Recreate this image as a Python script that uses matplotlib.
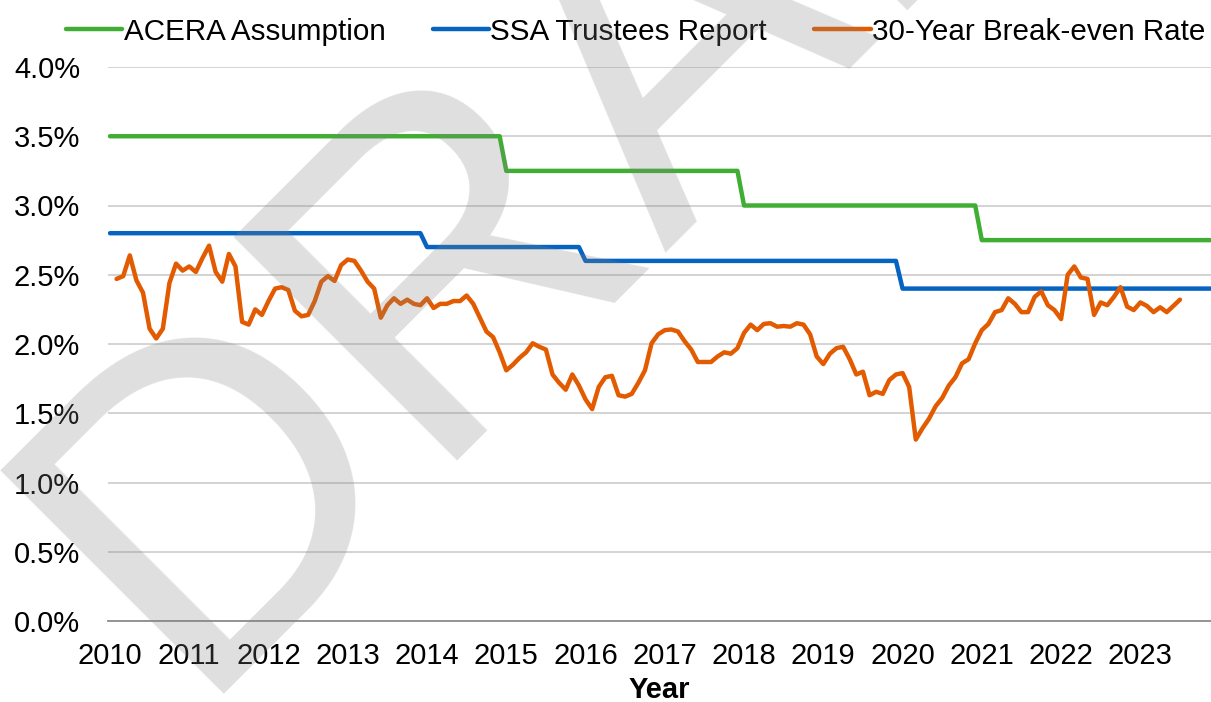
import matplotlib
matplotlib.use("Agg")
import matplotlib.pyplot as plt
import numpy as np

# Monthly index: 0 = Jan 2010
years = list(range(2010, 2024))
year_labels = [str(y) for y in years]

# Step assumptions (value, first month, last month)
acera_steps = [(3.50, 0, 59), (3.25, 60, 95), (3.00, 96, 131), (2.75, 132, 168)]
ssa_steps = [(2.80, 0, 47), (2.70, 48, 71), (2.60, 72, 119), (2.40, 120, 168)]

# 30-year break-even rate, monthly from Feb 2010 (month 1)
breakeven_start = 1
breakeven = [
    2.47, 2.49, 2.64, 2.46, 2.37, 2.11, 2.04, 2.11, 2.44, 2.58,
    2.53, 2.56, 2.52, 2.62, 2.71, 2.52, 2.45, 2.65, 2.56, 2.16,
    2.14, 2.25, 2.21, 2.31, 2.40, 2.41, 2.39, 2.24, 2.20, 2.21,
    2.31, 2.45, 2.49, 2.455, 2.57, 2.61, 2.60, 2.53, 2.45, 2.40,
    2.19, 2.28, 2.33, 2.29, 2.32, 2.29, 2.28, 2.33, 2.26, 2.29,
    2.29, 2.31, 2.31, 2.35, 2.29, 2.19, 2.09, 2.05, 1.94, 1.81,
    1.85, 1.90, 1.94, 2.005, 1.98, 1.96, 1.78, 1.72, 1.67, 1.78,
    1.70, 1.60, 1.53, 1.69, 1.76, 1.77, 1.63, 1.62, 1.64, 1.72,
    1.81, 2.005, 2.07, 2.10, 2.105, 2.09, 2.02, 1.96, 1.87, 1.87,
    1.87, 1.91, 1.94, 1.93, 1.97, 2.08, 2.14, 2.10, 2.145, 2.15,
    2.125, 2.13, 2.125, 2.15, 2.14, 2.07, 1.91, 1.855, 1.93, 1.97,
    1.98, 1.89, 1.78, 1.80, 1.63, 1.655, 1.64, 1.74, 1.78, 1.79,
    1.69, 1.31, 1.39, 1.46, 1.55, 1.61, 1.70, 1.76, 1.86, 1.89,
    2.005, 2.10, 2.145, 2.23, 2.245, 2.33, 2.29, 2.23, 2.23, 2.34,
    2.38, 2.28, 2.245, 2.18, 2.50, 2.56, 2.48, 2.47, 2.21, 2.30,
    2.28, 2.34, 2.41, 2.27, 2.245, 2.30, 2.275, 2.23, 2.265, 2.23,
    2.275, 2.32,
]

GREEN = '#3FAE33'
BLUE = '#0563C1'
ORANGE = '#E35B00'

plt.rcParams['font.family'] = ['Liberation Sans', 'DejaVu Sans']

fig = plt.figure(figsize=(12.11, 7.02), dpi=100)
ax = fig.add_axes([108/1211, 81/702, (1211-108)/1211, (621-67)/702])


def step_series(steps):
    xs, ys = [], []
    for v, a, b in steps:
        for m in range(a, b + 1):
            xs.append(m)
            ys.append(v)
    return xs, ys

gx, gy = step_series(acera_steps)
bx, by = step_series(ssa_steps)
ox = list(range(breakeven_start, breakeven_start + len(breakeven)))

lw = 3.2
ax.plot(gx, gy, color=GREEN, lw=lw, solid_capstyle='round', solid_joinstyle='round', label='ACERA Assumption', zorder=3)
ax.plot(bx, by, color=BLUE, lw=lw, solid_capstyle='round', solid_joinstyle='round', label='SSA Trustees Report', zorder=3)
ax.plot(ox, breakeven, color=ORANGE, lw=lw, solid_capstyle='round', solid_joinstyle='round', label='30-Year Break-even Rate', zorder=3)

ax.set_xlim(-0.3, 166.7)
ax.set_ylim(0, 4.0)
yt = np.arange(0, 4.01, 0.5)
ax.set_yticks(yt)
ax.set_yticklabels([f'{v:.1f}%' for v in yt])
ax.set_xticks([12 * (y - 2010) for y in years])
ax.set_xticklabels(year_labels)
ax.tick_params(axis='both', length=0, labelsize=21, colors='black')
ax.tick_params(axis='y', pad=20)
ax.tick_params(axis='x', pad=15)
ax.grid(axis='y', color='#D0D0D0', lw=1.3, zorder=0)
for s in ['top', 'right', 'left']:
    ax.spines[s].set_visible(False)
ax.spines['bottom'].set_color('#8C8C8C')
ax.spines['bottom'].set_linewidth(1.3)
ax.set_xlabel('Year', fontsize=21, fontweight='bold', labelpad=4.5)

fig.legend(loc='center', bbox_to_anchor=(0.525, 0.955), ncol=3, frameon=False,
           fontsize=21.3, handlelength=1.9, handletextpad=0.05, columnspacing=1.6,
           borderaxespad=0)

fig.text(186/1211, 1 - 694/702, 'DRAFT', fontsize=330, color='gray', alpha=0.25,
         rotation=45, rotation_mode='anchor', ha='left', va='baseline', zorder=10)

fig.savefig('out.png', dpi=100)
